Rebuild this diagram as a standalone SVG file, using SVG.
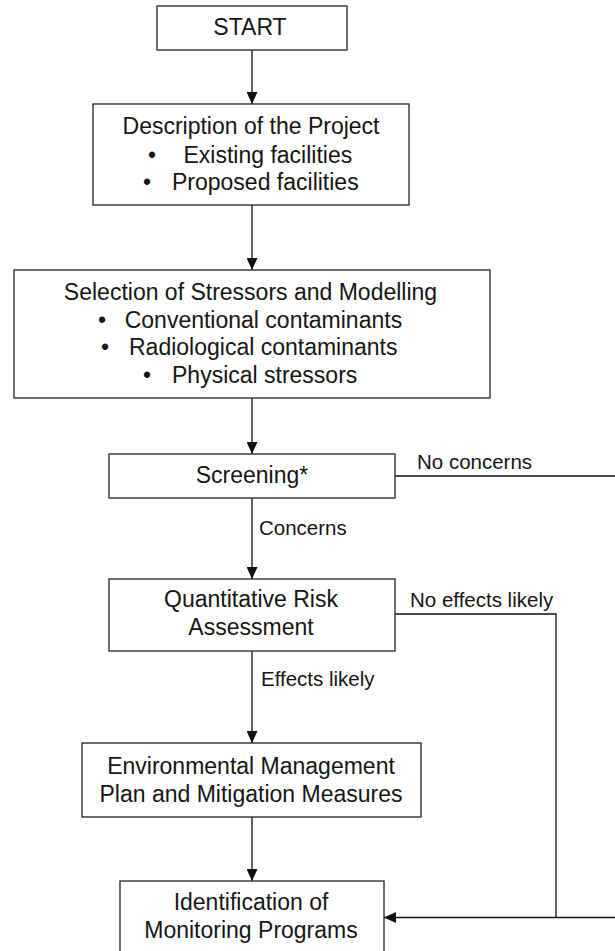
<svg xmlns="http://www.w3.org/2000/svg" width="615" height="951" viewBox="0 0 615 951">
<defs>
<marker id="ah" markerUnits="userSpaceOnUse" markerWidth="12" markerHeight="11" refX="12" refY="5.5" orient="auto">
<path d="M0,0 L12,5.5 L0,11 z" fill="#111"/>
</marker>
<style>
.box{fill:#fff;stroke:#222;stroke-width:1.3}
.t{font-family:"Liberation Sans",Arial,sans-serif;font-size:23px;fill:#151515}
.m{text-anchor:middle}
.lbl{font-family:"Liberation Sans",Arial,sans-serif;font-size:20.5px;fill:#151515}
.c{fill:none;stroke:#111;stroke-width:1.3}
</style>
</defs>
<rect width="615" height="951" fill="#fff"/>
<g id="connectors">
<line class="c" x1="252" y1="50" x2="252" y2="104" marker-end="url(#ah)"/>
<line class="c" x1="252" y1="205" x2="252" y2="270" marker-end="url(#ah)"/>
<line class="c" x1="252" y1="398" x2="252" y2="454" marker-end="url(#ah)"/>
<line class="c" x1="252" y1="498" x2="252" y2="579" marker-end="url(#ah)"/>
<line class="c" x1="252" y1="651" x2="252" y2="743" marker-end="url(#ah)"/>
<line class="c" x1="252" y1="817" x2="252" y2="881" marker-end="url(#ah)"/>
<path class="c" d="M395,476 H630 V917.5 H384" marker-end="url(#ah)"/>
<path class="c" d="M395,614 H556 V917.5"/>
<text class="lbl" x="417" y="469">No concerns</text>
<text class="lbl" x="259" y="535">Concerns</text>
<text class="lbl" x="410" y="607">No effects likely</text>
<text class="lbl" x="261" y="686">Effects likely</text>
</g>
<g id="start">
<rect class="box" x="157" y="6" width="190" height="44"/>
<text class="t m" x="250" y="35">START</text>
</g>
<g id="description">
<rect class="box" x="93" y="104" width="316" height="101"/>
<text class="t m" x="251" y="134">Description of the Project</text>
<text class="t m" x="152" y="163">•</text>
<text class="t" x="183.5" y="163">Existing facilities</text>
<text class="t m" x="147" y="190">•</text>
<text class="t" x="172" y="190">Proposed facilities</text>
</g>
<g id="selection">
<rect class="box" x="14" y="270" width="476" height="128"/>
<text class="t m" x="250.5" y="300">Selection of Stressors and Modelling</text>
<text class="t m" x="102" y="328">•</text>
<text class="t" x="124.7" y="328">Conventional contaminants</text>
<text class="t m" x="105" y="355">•</text>
<text class="t" x="129" y="355">Radiological contaminants</text>
<text class="t m" x="147" y="383">•</text>
<text class="t" x="172" y="383">Physical stressors</text>
</g>
<g id="screening">
<rect class="box" x="109" y="454" width="286" height="44"/>
<text class="t m" x="252" y="483">Screening*</text>
</g>
<g id="qra">
<rect class="box" x="109" y="579" width="286" height="72"/>
<text class="t m" x="251" y="607">Quantitative Risk</text>
<text class="t m" x="251" y="635">Assessment</text>
</g>
<g id="emp">
<rect class="box" x="82" y="743" width="339" height="74"/>
<text class="t m" x="251" y="774">Environmental Management</text>
<text class="t m" x="251" y="802">Plan and Mitigation Measures</text>
</g>
<g id="imp">
<rect class="box" x="120" y="881" width="264" height="80"/>
<text class="t m" x="251" y="910">Identification of</text>
<text class="t m" x="251" y="938">Monitoring Programs</text>
</g>
</svg>
